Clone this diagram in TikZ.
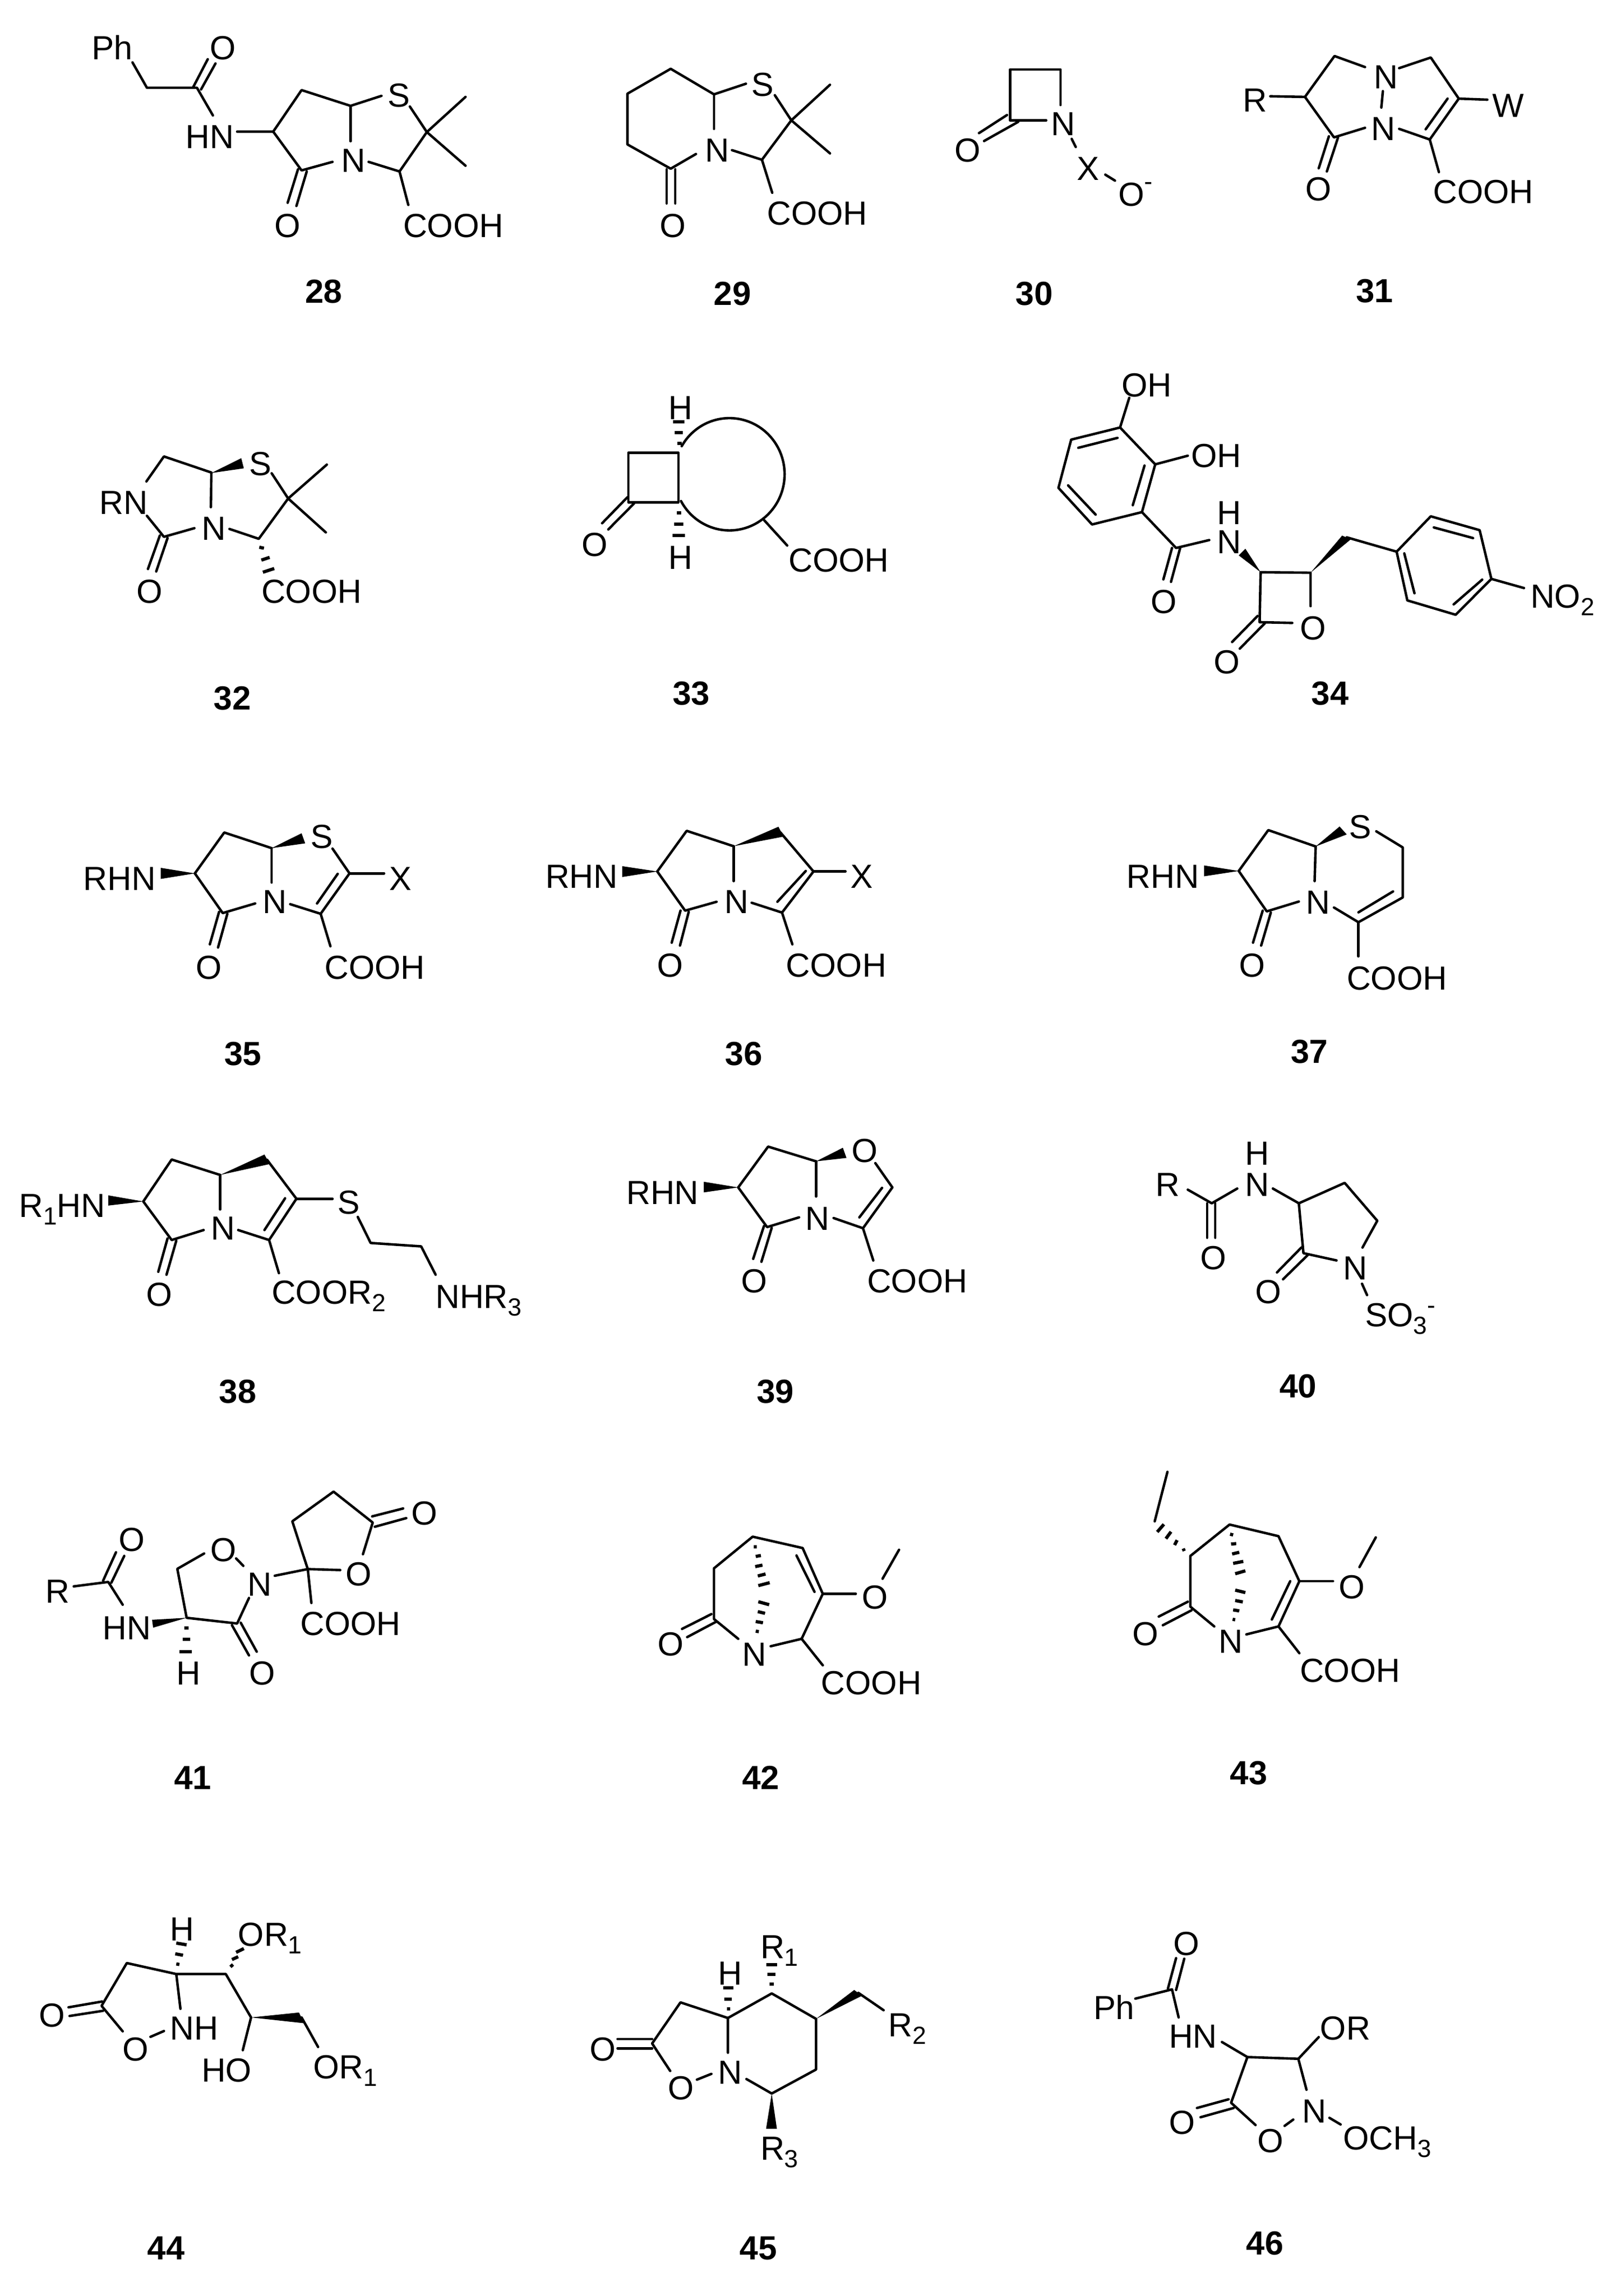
\documentclass[tikz,border=0pt]{standalone}
\usepackage{fontspec}
\setmainfont{Liberation Sans}
\tikzset{
  zone/.style n args={4}{x={1pt*#3/1568*0.5},y={-1pt*#4/1568*0.5},shift={({#1*0.5pt},{-#2*0.5pt})}},
  bond/.style={line width=2.3pt,line join=round,line cap=round},
  hash/.style={line width=3pt},
  wedgefill/.style={fill=black},
  atomtext/.style={anchor=base west,inner sep=0pt,outer sep=0pt,font=\fontsize{31}{31}\selectfont},
  numtext/.style={anchor=base west,inner sep=0pt,outer sep=0pt,font=\fontsize{31}{31}\selectfont\bfseries}
}
\newcommand{\lbl}[3]{\node[atomtext] (#1) at (#2) {#3};}
\newcommand{\num}[3]{\node[numtext] (#1) at (#2) {#3};}
\newcommand{\sbs}[1]{\raisebox{-7pt}{\fontsize{23}{23}\selectfont #1}}
\newcommand{\sps}[1]{\raisebox{#1}{\fontsize{23}{23}\selectfont -}}
\begin{document}
\begin{tikzpicture}
\useasboundingbox (0pt,0pt) rectangle (1491pt,-2131pt);
\fill[white] (0pt,0pt) rectangle (1491pt,-2131pt);

% ---------- zone 1: 28, 29
\begin{scope}[zone={0}{0}{1500}{620}]
\lbl{pha}{178,280}{Ph}
\lbl{oa}{407,280}{O}
\lbl{hna}{360,697}{HN}
\lbl{na}{662,807}{N}
\lbl{sa}{752,502}{S}
\lbl{ob}{533,1115}{O}
\lbl{ca}{782,1115}{COOH}
\num{n28}{592,1422}{28}
\draw[bond] (257,293)--(285,412)--(382,412)--(413,542);
\draw[bond] (375,408)--(403,278) (390,420)--(418,298);
\draw[bond] (460,618)--(530,618)--(585,423)--(680,497)--(740,450);
\draw[bond] (680,497)--(680,663);
\draw[bond] (530,618)--(585,800)--(645,760);
\draw[bond] (715,760)--(775,805)--(828,620)--(795,500);
\draw[bond] (828,620)--(903,455) (828,620)--(903,778);
\draw[bond] (775,805)--(792,962);
\draw[bond] (578,795)--(558,952) (595,805)--(575,967);

\lbl{sb}{1458,452}{S}
\lbl{nb}{1368,760}{N}
\lbl{oc}{1280,1115}{O}
\lbl{cb}{1488,1055}{COOH}
\num{n29}{1385,1432}{29}
\draw[bond] (1447,393)--(1385,443)--(1301,323)--(1217,440)--(1217,678)--(1301,792)--(1350,723);
\draw[bond] (1385,443)--(1385,605);
\draw[bond] (1420,705)--(1478,750)--(1535,565)--(1503,447);
\draw[bond] (1535,565)--(1610,398) (1535,565)--(1610,720);
\draw[bond] (1478,750)--(1498,905);
\draw[bond] (1293,795)--(1293,955) (1310,795)--(1310,955);
\end{scope}

% ---------- zone 2: 30, 31
\begin{scope}[zone={1500}{0}{1482}{620}]
\lbl{oe}{287,760}{O}
\lbl{ne}{477,635}{N}
\lbl{xe}{527,845}{X}
\lbl{of}{609,967}{O\sps{15pt}}
\num{n30}{407,1433}{30}
\draw[bond] (467,565)--(396,565)--(396,326)--(495,326)--(495,493);
\draw[bond] (390,540)--(335,625) (412,572)--(345,662);
\draw[bond] (517,652)--(525,690);
\draw[bond] (583,820)--(602,848);

\lbl{rg}{853,525}{R}
\lbl{ng}{1110,415}{N}
\lbl{nh}{1105,660}{N}
\lbl{wg}{1343,549}{W}
\lbl{og}{976,942}{O}
\lbl{cg}{1227,955}{COOH}
\num{n31}{1075,1420}{31}
\draw[bond] (907,452)--(975,455)--(1033,263)--(1093,315);
\draw[bond] (1160,320)--(1222,270)--(1277,463)--(1220,655)--(1160,605);
\draw[bond] (975,455)--(1032,645)--(1093,600);
\draw[bond] (1128,428)--(1125,505);
\draw[bond] (1277,463)--(1333,468);
\draw[bond] (1255,463)--(1212,607);
\draw[bond] (1022,640)--(1002,790) (1040,645)--(1018,805);
\draw[bond] (1220,655)--(1238,808);
\end{scope}

% ---------- zone 3: 32, 33
\begin{scope}[zone={0}{620}{1500}{720}]
\lbl{rni}{193,728}{RN}
\lbl{ni}{392,833}{N}
\lbl{si}{483,572}{S}
\lbl{oi}{265,1088}{O}
\lbl{ci}{507,1088}{COOH}
\num{n32}{415,1520}{32}
\draw[bond] (284,596)--(318,495)--(410,560);
\fill[wedgefill] (410,562)--(468,502)--(473,543)--cycle;
\draw[bond] (410,562)--(409,700);
\draw[bond] (285,735)--(318,820)--(377,785);
\draw[bond] (445,788)--(502,828)--(559,665)--(527,563);
\draw[bond] (559,665)--(634,528) (559,665)--(632,802);
\draw[bond] (310,815)--(287,950) (325,825)--(303,960);
\draw[hash] (503,862)--(512,866) (507,914)--(523,903) (510,963)--(532,948);

\lbl{oj}{1128,898}{O}
\lbl{cj}{1530,962}{COOH}
\lbl{hj}{1297,345}{H}
\lbl{hk}{1297,950}{H}
\num{n33}{1305,1500}{33}
\draw[bond] (1219,680)--(1219,480)--(1316,480)--(1316,680)--cycle;
\draw[bond] plot[domain=210:511.5,samples=90,smooth] ({1415+107*cos(\x)},{567+227*sin(\x)});
\draw[bond] (1482,752)--(1527,855);
\draw[bond] (1217,660)--(1168,765) (1230,685)--(1180,790);
\draw[hash] (1306,355)--(1328,355) (1309,398)--(1324,398) (1314,442)--(1322,442);
\draw[hash] (1313,722)--(1321,722) (1308,768)--(1325,768) (1305,815)--(1329,815);
\end{scope}

% ---------- zone 4: 34
\begin{scope}[zone={1500}{620}{1482}{720}]
\lbl{om}{615,253}{OH}
\lbl{omb}{752,538}{OH}
\lbl{omc}{672,1130}{O}
\lbl{hm}{802,770}{H}
\lbl{nm}{802,887}{N}
\lbl{omd}{965,1235}{O}
\lbl{ome}{796,1373}{O}
\lbl{nom}{1418,1108}{NO\sbs{2}}
\num{n34}{988,1500}{34}
\draw[bond] (612,378)--(516,427)--(491,622)--(557,770)--(655,720)--(681,527)--cycle;
\draw[bond] (530,460)--(607,420) (510,612)--(564,730) (637,692)--(660,532);
\draw[bond] (612,378)--(630,258) (681,527)--(745,492);
\draw[bond] (655,720)--(722,865)--(787,833);
\draw[bond] (714,865)--(697,992) (730,865)--(712,1002);
\fill[wedgefill] (888,963)--(845,895)--(858,868)--cycle;
\draw[bond] (986,1100)--(986,965)--(888,963)--(886,1165)--(950,1168);
\draw[bond] (882,1140)--(832,1245) (896,1170)--(847,1272);
\fill[wedgefill] (986,965)--(1048,815)--(1065,830)--cycle;
\draw[bond] (1057,822)--(1155,880);
\draw[bond] (1155,880)--(1222,737)--(1318,793)--(1341,990)--(1271,1135)--(1176,1077)--cycle;
\draw[bond] (1228,782)--(1305,825) (1170,887)--(1190,1048) (1267,1093)--(1323,993);
\draw[bond] (1341,990)--(1405,1027);
\end{scope}

% ---------- zone 5: 35, 36
\begin{scope}[zone={0}{1340}{1500}{700}]
\lbl{rhn}{162,700}{RHN}
\lbl{no}{510,797}{N}
\lbl{xo}{755,700}{X}
\lbl{so}{603,525}{S}
\lbl{oo}{380,1070}{O}
\lbl{co}{630,1070}{COOH}
\num{n35}{435,1427}{35}
\fill[wedgefill] (378,630)--(312,607)--(312,653)--cycle;
\draw[bond] (378,630)--(435,460)--(527,525);
\fill[wedgefill] (527,525)--(585,463)--(592,505)--cycle;
\draw[bond] (527,525)--(527,668);
\draw[bond] (378,630)--(432,795)--(495,755);
\draw[bond] (563,758)--(622,798)--(678,630)--(645,527);
\draw[bond] (655,632)--(615,755);
\draw[bond] (678,630)--(745,630);
\draw[bond] (425,790)--(407,925) (441,798)--(423,938);
\draw[bond] (622,798)--(641,933);

\lbl{rhp}{1058,690}{RHN}
\lbl{np}{1405,797}{N}
\lbl{xp}{1650,690}{X}
\lbl{op}{1275,1060}{O}
\lbl{cp}{1525,1060}{COOH}
\num{n36}{1407,1428}{36}
\fill[wedgefill] (1275,622)--(1207,600)--(1207,645)--cycle;
\draw[bond] (1275,622)--(1332,453)--(1423,517);
\fill[wedgefill] (1423,517)--(1510,436)--(1520,477)--cycle;
\draw[bond] (1423,517)--(1423,662);
\draw[bond] (1275,622)--(1329,785)--(1390,748);
\draw[bond] (1458,752)--(1517,793)--(1578,622)--(1514,460);
\draw[bond] (1563,620)--(1508,748);
\draw[bond] (1578,622)--(1640,622);
\draw[bond] (1320,785)--(1303,918) (1336,790)--(1319,930);
\draw[bond] (1517,793)--(1537,925);
\end{scope}

% ---------- zone 6: 37
\begin{scope}[zone={1500}{1340}{1482}{700}]
\lbl{rhq}{625,690}{RHN}
\lbl{nq}{977,798}{N}
\lbl{sq}{1062,485}{S}
\lbl{oq}{846,1060}{O}
\lbl{cq}{1057,1115}{COOH}
\num{n37}{947,1418}{37}
\fill[wedgefill] (845,620)--(777,597)--(777,642)--cycle;
\draw[bond] (845,620)--(903,450)--(996,518);
\fill[wedgefill] (996,518)--(1043,435)--(1057,468)--cycle;
\draw[bond] (996,518)--(994,662);
\draw[bond] (845,620)--(900,788)--(963,747);
\draw[bond] (1115,455)--(1167,522)--(1167,730)--(1080,833)--(1032,772);
\draw[bond] (1148,705)--(1080,792);
\draw[bond] (1080,833)--(1080,975);
\draw[bond] (892,785)--(873,918) (908,793)--(889,930);
\end{scope}

% ---------- zone 7: 38, 39
\begin{scope}[zone={0}{2040}{1500}{660}]
\lbl{rhs}{37,522}{R\sbs{1}HN}
\lbl{ns}{409,622}{N}
\lbl{ss}{655,507}{S}
\lbl{os}{284,913}{O}
\lbl{cs}{527,903}{COOR\sbs{2}}
\lbl{nhs}{845,922}{NHR\sbs{3}}
\num{n38}{425,1340}{38}
\fill[wedgefill] (278,452)--(210,425)--(210,470)--cycle;
\draw[bond] (278,452)--(333,267)--(427,335);
\fill[wedgefill] (427,335)--(513,245)--(523,287)--cycle;
\draw[bond] (427,335)--(427,487);
\draw[bond] (278,452)--(333,622)--(395,578);
\draw[bond] (462,578)--(522,622)--(575,440)--(518,268);
\draw[bond] (553,438)--(513,578);
\draw[bond] (575,440)--(645,440);
\draw[bond] (694,520)--(719,635)--(817,650)--(845,775);
\draw[bond] (325,615)--(307,762) (342,625)--(323,775);
\draw[bond] (522,622)--(541,768);

\lbl{rht}{1215,465}{RHN}
\lbl{nt}{1562,578}{N}
\lbl{ot}{1652,278}{O}
\lbl{otb}{1438,855}{O}
\lbl{ct}{1682,855}{COOH}
\num{n39}{1468,1340}{39}
\fill[wedgefill] (1432,390)--(1365,365)--(1365,412)--cycle;
\draw[bond] (1432,390)--(1490,210)--(1583,275);
\fill[wedgefill] (1583,275)--(1635,215)--(1642,260)--cycle;
\draw[bond] (1583,275)--(1583,430);
\draw[bond] (1432,390)--(1488,565)--(1550,522);
\draw[bond] (1482,560)--(1461,705) (1497,568)--(1477,718);
\draw[bond] (1698,283)--(1731,390)--(1674,570)--(1617,525);
\draw[bond] (1711,392)--(1667,522);
\draw[bond] (1674,570)--(1694,712);
\end{scope}

% ---------- zone 8: 40
\begin{scope}[zone={1500}{2040}{1482}{660}]
\lbl{ru}{682,428}{R}
\lbl{hu}{858,290}{H}
\lbl{nu}{858,428}{N}
\lbl{ou}{770,752}{O}
\lbl{nv}{1050,797}{N}
\lbl{ov}{878,902}{O}
\lbl{sv}{1093,1003}{SO\sbs{3}\sps{12pt}}
\num{n40}{925,1317}{40}
\draw[bond] (745,400)--(792,460)--(842,395);
\draw[bond] (783,460)--(783,612) (799,460)--(799,612);
\draw[bond] (912,395)--(963,460)--(1053,370)--(1117,537)--(1088,655);
\draw[bond] (963,460)--(972,680)--(1037,712);
\draw[bond] (968,655)--(920,765) (982,685)--(932,795);
\draw[bond] (1087,815)--(1097,865);
\end{scope}

% ---------- zone 9: 41, 42
\begin{scope}[zone={0}{2700}{1500}{720}]
\lbl{rw}{88,600}{R}
\lbl{ow}{230,390}{O}
\lbl{hnw}{199,748}{HN}
\lbl{owb}{408,433}{O}
\lbl{nw}{480,572}{N}
\lbl{owc}{483,930}{O}
\lbl{hw}{342,930}{H}
\lbl{owd}{671,530}{O}
\lbl{cw}{583,730}{COOH}
\lbl{owe}{798,285}{O}
\num{n41}{338,1353}{41}
\draw[bond] (143,533)--(210,515)--(238,607);
\draw[bond] (200,510)--(225,395) (216,518)--(241,410);
\fill[wedgefill] (362,660)--(295,668)--(297,700)--cycle;
\draw[bond] (396,400)--(344,462)--(362,660)--(460,683)--(483,580);
\draw[bond] (458,420)--(472,450);
\draw[bond] (450,690)--(483,812) (467,680)--(498,797);
\draw[hash] (357,702)--(366,702) (354,748)--(369,748) (348,796)--(372,796);
\draw[bond] (533,490)--(597,463)--(660,467);
\draw[bond] (597,463)--(567,270)--(647,150)--(723,275)--(704,403);
\draw[bond] (597,463)--(604,600);
\draw[bond] (722,250)--(782,218) (727,292)--(788,257);

\lbl{ox}{1276,813}{O}
\lbl{nx}{1440,855}{N}
\lbl{oxb}{1672,623}{O}
\lbl{cx}{1593,970}{COOH}
\num{n42}{1440,1353}{42}
\draw[bond] (1432,745)--(1385,665)--(1385,460)--(1460,332)--(1557,378)--(1596,563)--(1555,745)--(1495,775);
\draw[bond] (1380,645)--(1323,705) (1390,675)--(1333,738);
\draw[bond] (1545,408)--(1580,555);
\draw[bond] (1596,563)--(1660,563);
\draw[bond] (1712,502)--(1744,385);
\draw[bond] (1555,745)--(1596,852);
\draw[hash] (1462,373)--(1468,373) (1466,412)--(1476,408) (1465,453)--(1479,447) (1470,491)--(1485,483) (1471,530)--(1493,518);
\draw[hash] (1471,595)--(1492,607) (1470,635)--(1484,642) (1466,675)--(1480,680) (1466,714)--(1472,716);
\end{scope}

% ---------- zone 10: 43
\begin{scope}[zone={1500}{2700}{1482}{720}]
\lbl{oy}{1042,583}{O}
\lbl{cy}{965,920}{COOH}
\lbl{ny}{806,803}{N}
\lbl{oyb}{636,772}{O}
\num{n43}{828,1333}{43}
\draw[bond] (797,695)--(750,615)--(750,410)--(827,283)--(923,330)--(964,512)--(923,695)--(860,727);
\draw[bond] (946,512)--(910,667);
\draw[bond] (964,512)--(1030,512);
\draw[bond] (1082,455)--(1114,335);
\draw[bond] (923,695)--(964,803);
\draw[bond] (745,595)--(688,655) (752,630)--(696,690);
\draw[hash] (736,380)--(738,390) (724,346)--(719,366) (712,312)--(702,340) (698,282)--(685,313);
\draw[bond] (680,270)--(705,70);
\draw[hash] (828,322)--(834,325) (830,362)--(840,360) (832,402)--(846,395) (834,440)--(854,432) (838,482)--(858,470);
\draw[hash] (838,548)--(858,558) (838,590)--(853,596) (834,628)--(846,632) (833,666)--(838,668);
\end{scope}

% ---------- zone 11: 44, 45
\begin{scope}[zone={0}{3420}{1500}{842}]
\lbl{oz}{76,637}{O}
\lbl{ozb}{238,755}{O}
\lbl{nhz}{330,682}{NH}
\lbl{hz}{330,340}{H}
\lbl{orz}{462,358}{OR\sbs{1}}
\lbl{hoz}{391,827}{HO}
\lbl{orb}{608,817}{OR\sbs{1}}
\num{n44}{286,1443}{44}
\draw[bond] (133,570)--(198,550) (135,600)--(200,582);
\draw[bond] (350,575)--(342,455)--(246,417)--(197,565)--(238,653);
\draw[bond] (292,672)--(318,652);
\draw[bond] (342,455)--(438,455)--(487,605)--(471,718);
\draw[hash] (342,348)--(362,354) (340,385)--(355,390) (342,420)--(348,422);
\draw[hash] (447,430)--(452,422) (450,405)--(462,395) (458,380)--(473,367);
\fill[wedgefill] (487,605)--(580,588)--(590,625)--cycle;
\draw[bond] (585,605)--(617,707);

\lbl{oaa}{1144,755}{O}
\lbl{oab}{1296,890}{O}
\lbl{nab}{1393,835}{N}
\lbl{rac}{1475,1097}{R\sbs{3}}
\lbl{had}{1393,492}{H}
\lbl{rae}{1475,402}{R\sbs{1}}
\lbl{raf}{1723,672}{R\sbs{2}}
\num{n45}{1435,1442}{45}
\draw[bond] (1198,680)--(1265,680) (1198,712)--(1265,712);
\draw[bond] (1412,727)--(1412,607)--(1320,553)--(1265,695)--(1300,790);
\draw[bond] (1352,820)--(1380,800);
\draw[bond] (1412,607)--(1497,522)--(1583,610)--(1583,785)--(1497,868)--(1448,818);
\fill[wedgefill] (1497,868)--(1486,990)--(1507,990)--cycle;
\draw[hash] (1403,503)--(1423,503) (1405,541)--(1420,541) (1410,575)--(1416,575);
\draw[hash] (1486,423)--(1507,423) (1489,456)--(1504,456) (1493,489)--(1501,489);
\fill[wedgefill] (1583,610)--(1657,510)--(1672,530)--cycle;
\draw[bond] (1665,520)--(1714,580);
\end{scope}

% ---------- zone 12: 46
\begin{scope}[zone={1500}{3420}{1482}{842}]
\lbl{oba}{717,390}{O}
\lbl{phb}{560,612}{Ph}
\lbl{hnb}{708,710}{HN}
\lbl{orc}{1005,682}{OR}
\lbl{obb}{708,1008}{O}
\lbl{obc}{882,1072}{O}
\lbl{nbb}{970,970}{N}
\lbl{och}{1050,1062}{OCH\sbs{3}}
\num{n46}{860,1425}{46}
\draw[bond] (706,505)--(722,400) (722,510)--(738,402);
\draw[bond] (642,540)--(714,508)--(727,605);
\draw[bond] (812,690)--(862,742)--(962,748)--(1002,673);
\draw[bond] (962,748)--(978,855);
\draw[bond] (862,742)--(830,900)--(878,977);
\draw[bond] (763,918)--(825,888) (770,950)--(835,918);
\draw[bond] (935,980)--(952,958);
\draw[bond] (1023,952)--(1045,975);
\end{scope}
\end{tikzpicture}
\end{document}
